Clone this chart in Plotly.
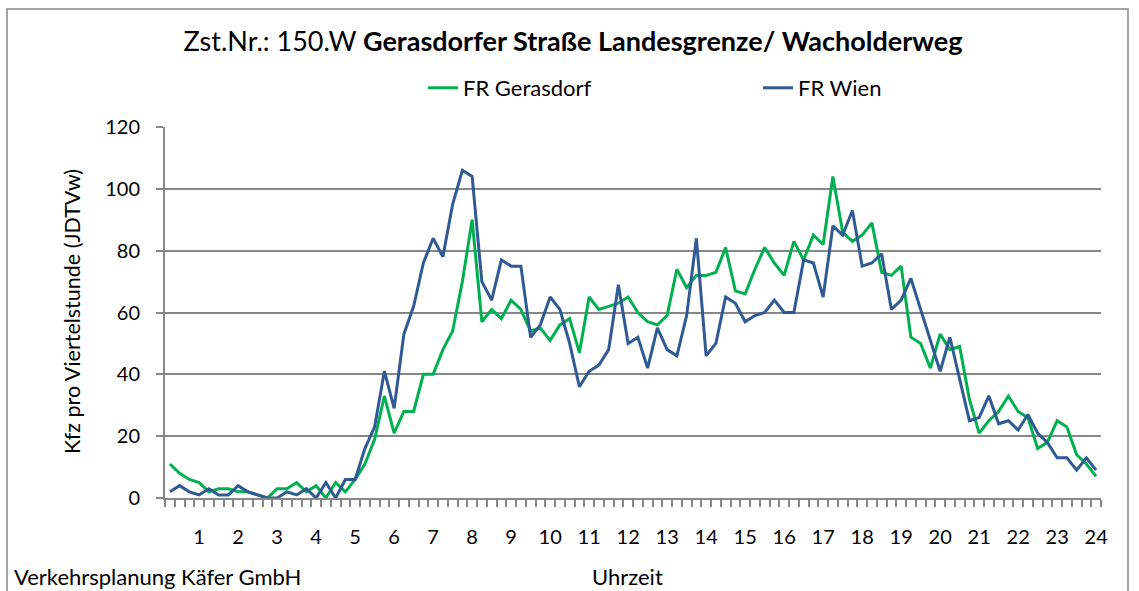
import plotly.graph_objects as go

# Quarter-hour counts (vehicles per 15 min), 96 intervals ending 00:15 ... 24:00
quarter_hours = [(i + 1) * 0.25 for i in range(96)]

fr_gerasdorf = [
    11, 8, 6, 5, 2, 3, 3, 2, 2, 1, 0, 3, 3, 5, 2, 4,
    0, 5, 2, 6, 11, 19, 33, 21, 28, 28, 40, 40, 48, 54, 70, 90,
    57, 61, 58, 64, 61, 54, 55, 51, 56, 58, 47, 65, 61, 62, 63, 65,
    60, 57, 56, 59, 74, 68, 72, 72, 73, 81, 67, 66, 74, 81, 76, 72,
    83, 77, 85, 82, 104, 86, 83, 85, 89, 73, 72, 75, 52, 50, 42, 53,
    48, 49, 32, 21, 25, 28, 33, 28, 26, 16, 18, 25, 23, 14, 11, 7,
]

fr_wien = [
    2, 4, 2, 1, 3, 1, 1, 4, 2, 1, 0, 0, 2, 1, 3, 0,
    5, 0, 6, 6, 16, 23, 41, 29, 53, 62, 76, 84, 78, 95, 106, 104,
    70, 64, 77, 75, 75, 52, 56, 65, 61, 50, 36, 41, 43, 48, 69, 50,
    52, 42, 55, 48, 46, 59, 84, 46, 50, 65, 63, 57, 59, 60, 64, 60,
    60, 77, 76, 65, 88, 85, 93, 75, 76, 79, 61, 64, 71, 61, 51, 41,
    52, 39, 25, 26, 33, 24, 25, 22, 27, 21, 18, 13, 13, 9, 13, 9,
]

hour_ticks = list(range(1, 25))
y_ticks = [0, 20, 40, 60, 80, 100, 120]

FONT = "Lato"
GREY = "#878787"
GREEN = "#00b050"
BLUE = "#2f5a93"

fig = go.Figure()
fig.add_trace(go.Scatter(x=quarter_hours, y=fr_gerasdorf, mode="lines",
                         name="FR Gerasdorf", line=dict(color=GREEN, width=3)))
fig.add_trace(go.Scatter(x=quarter_hours, y=fr_wien, mode="lines",
                         name="FR Wien", line=dict(color=BLUE, width=3)))

W, H = 1139, 591
ML, MR, MT, MB = 165, 38, 127, 93
PW, PH = W - ML - MR, H - MT - MB

def px_x(px):
    return (px - ML) / PW

def px_y(py):
    return (H - MB - py) / PH

fig.update_layout(
    width=W, height=H,
    margin=dict(l=ML, r=MR, t=MT, b=MB, pad=0, autoexpand=False),
    paper_bgcolor="white", plot_bgcolor="white",
    font=dict(family=FONT, size=20, color="#000000"),
    title=dict(
        text="Zst.Nr.: 150.W <b>Gerasdorfer Straße Landesgrenze/ Wacholderweg</b>",
        x=px_x(573), xref="paper", xanchor="center",
        y=1 - 42 / H, yref="container", yanchor="middle",
        font=dict(family=FONT, size=27, color="#000000"),
    ),
    legend=dict(
        orientation="h", x=px_x(423), xanchor="left",
        y=px_y(88), yanchor="middle",
        entrywidth=290, entrywidthmode="pixels",
        font=dict(family=FONT, size=22),
        bgcolor="rgba(0,0,0,0)",
    ),
    showlegend=True,
)

fig.update_xaxes(
    range=[0.125, 24.125], tickmode="array", tickvals=hour_ticks,
    ticktext=[str(h) for h in hour_ticks],
    ticks="", ticklabelstandoff=20,
    showgrid=False, zeroline=False,
    showline=True, linecolor=GREY, linewidth=2,
    minor=dict(tick0=0.125, dtick=0.25, ticks="outside", ticklen=7,
               tickcolor=GREY, tickwidth=1.5, showgrid=False),
    tickfont=dict(family=FONT, size=20),
)

fig.update_yaxes(
    range=[0, 120], tickmode="array", tickvals=y_ticks,
    ticks="outside", ticklen=7, tickcolor=GREY, tickwidth=2,
    showgrid=True, gridcolor=GREY, gridwidth=2,
    zeroline=False, showline=True, linecolor=GREY, linewidth=2,
    ticklabelstandoff=12,
    tickfont=dict(family=FONT, size=20),
)

fig.add_annotation(text="Kfz pro Viertelstunde (JDTVw)", textangle=-90,
                   x=px_x(72), y=px_y(312), xref="paper", yref="paper",
                   xanchor="center", yanchor="middle",
                   showarrow=False, font=dict(family=FONT, size=21.5))
fig.add_annotation(text="Uhrzeit", x=px_x(627), y=px_y(576),
                   xref="paper", yref="paper", xanchor="center", yanchor="middle",
                   showarrow=False, font=dict(family=FONT, size=22))
fig.add_annotation(text="Verkehrsplanung Käfer GmbH", x=px_x(12), y=px_y(576),
                   xref="paper", yref="paper", xanchor="left", yanchor="middle",
                   showarrow=False, font=dict(family=FONT, size=22))

# outer chart frame
fig.add_shape(type="rect", xref="paper", yref="paper",
              x0=px_x(7), x1=px_x(1128), y0=px_y(600), y1=px_y(9),
              line=dict(color=GREY, width=1.5), layer="below")

fig.write_html("out.html")
